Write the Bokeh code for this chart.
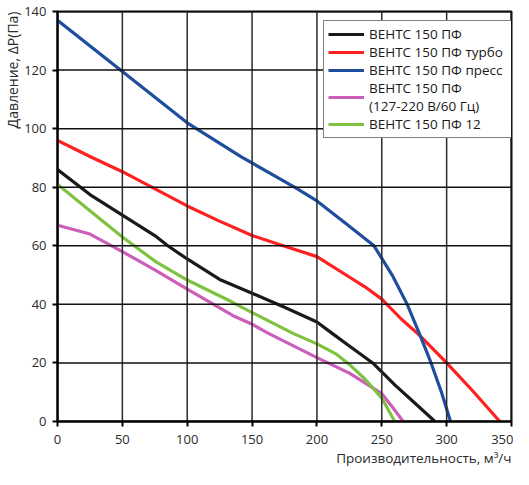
from bokeh.plotting import figure
from bokeh.models import (Range1d, Legend, LegendItem, Title, FixedTicker)
from bokeh.embed import file_html
from bokeh.resources import INLINE

# кривые: производительность (м3/ч) -> давление (Па)
flow_black = [0, 25, 50, 75, 85, 100, 125, 150, 175, 200, 212, 225, 243, 260, 275, 291]
pres_black = [86, 77.5, 70.5, 63.5, 60, 55.5, 48.5, 43.8, 39, 34, 30, 25.8, 20, 12.5, 6.5, 0]

flow_red = [0, 25, 50, 100, 124, 150, 174, 200, 224, 237, 250, 265, 279, 300, 320, 341]
pres_red = [96, 90.5, 85.3, 73.6, 68.6, 63.5, 60, 56.3, 49.6, 46, 41.8, 35, 29.5, 20, 10.5, 0]

flow_blue = [0, 50, 100, 142, 184, 200, 224, 244, 250, 258, 269.6, 279, 288, 296, 303]
pres_blue = [137, 119.5, 102, 90.3, 79.7, 75.3, 67, 60, 55.7, 50, 40, 30, 20, 10, 0]

flow_pink = [0, 25, 50, 75, 100, 135, 150, 163, 200, 225, 237, 250, 258, 266.5]
pres_pink = [67, 64, 58, 51.8, 45.2, 36.2, 33.2, 30, 21.8, 16.5, 13.2, 9.5, 5, 0]

flow_green = [0, 25, 50, 75, 100, 135, 150, 182, 200, 215, 225, 237, 250, 255, 260]
pres_green = [81, 72, 63, 54.8, 48.3, 40.7, 37.2, 30, 26.5, 23, 19.5, 14.5, 8, 4, 0]

series_names = ["ВЕНТС 150 ПФ", "ВЕНТС 150 ПФ турбо", "ВЕНТС 150 ПФ пресс",
                "ВЕНТС 150 ПФ\n(127-220 В/60 Гц)", "ВЕНТС 150 ПФ 12"]
series_colors = ["#1a1a1a", "#ff2020", "#1f4e9e", "#cc5db8", "#7fc241"]

x_ticks = [0, 50, 100, 150, 200, 250, 300, 350]
y_ticks = [0, 20, 40, 60, 80, 100, 120, 140]

x_label = "Производительность, м³/ч"
y_label = "Давление, ΔP(Па)"

FONT = "Open Sans"

x_lo, x_hi = x_ticks[0], x_ticks[-1]
y_lo, y_hi = y_ticks[0], y_ticks[-1]

p = figure(width=513, height=469, output_backend="svg", toolbar_location=None,
           x_range=Range1d(x_lo, x_hi), y_range=Range1d(y_lo, y_hi),
           min_border_left=54, min_border_right=2, min_border_top=11,
           min_border_bottom=48)

p.outline_line_color = "black"
p.outline_line_width = 2
p.grid.visible = False

p.xaxis.ticker = FixedTicker(ticks=x_ticks)
p.yaxis.ticker = FixedTicker(ticks=y_ticks)
for ax in (p.xaxis, p.yaxis):
    ax.axis_line_color = "black"
    ax.axis_line_width = 2
    ax.major_tick_line_color = "black"
    ax.major_tick_line_width = 2
    ax.major_tick_out = 5
    ax.major_tick_in = 0
    ax.minor_tick_line_color = None
    ax.major_label_text_font = FONT
    ax.major_label_text_font_size = "13px"
    ax.major_label_text_color = "#2a2a2a"
p.xaxis.major_label_standoff = 8
p.yaxis.major_label_standoff = 6

flows = [flow_black, flow_red, flow_blue, flow_pink, flow_green]
press = [pres_black, pres_red, pres_blue, pres_pink, pres_green]
renderers = []
for fx, fy, c in zip(flows, press, series_colors):
    r = p.line(fx, fy, line_color=c, line_width=3.2, line_join="round")
    renderers.append(r)

# сетка одной ломаной "змейкой" на каждое направление, после кривых
vx, vy = [], []
for i, t in enumerate(x_ticks):
    vx += [t, t]
    vy += [y_lo, y_hi] if i % 2 == 0 else [y_hi, y_lo]
hx, hy = [], []
for i, t in enumerate(y_ticks):
    hy += [t, t]
    hx += [x_lo, x_hi] if i % 2 == 0 else [x_hi, x_lo]
p.line(vx, vy, line_color="#2a2a2a", line_width=1.5, line_join="miter")
p.line(hx, hy, line_color="#111111", line_width=1.5, line_join="miter")

items = [LegendItem(label=n, renderers=[r]) for n, r in zip(series_names, renderers)]
legend = Legend(items=items, location=(266, 283), padding=4, margin=0,
                border_line_color="black", border_line_width=1.2,
                background_fill_color="white", background_fill_alpha=1.0,
                glyph_width=36, glyph_height=16, label_height=16, spacing=0,
                label_standoff=5, label_width=140, label_text_font=FONT,
                label_text_font_size="13.5px", label_text_color="#1a1a1a")
p.add_layout(legend, "center")

p.add_layout(Title(text=x_label, align="right", text_font=FONT,
                   text_font_size="13.5px", text_font_style="normal",
                   text_color="#2a2a2a", standoff=0), "below")
p.add_layout(Title(text=y_label, align="right", text_font=FONT,
                   text_font_size="14px", text_font_style="normal",
                   text_color="#2a2a2a", standoff=0), "left")

open("out.html", "w").write(file_html(p, INLINE))
